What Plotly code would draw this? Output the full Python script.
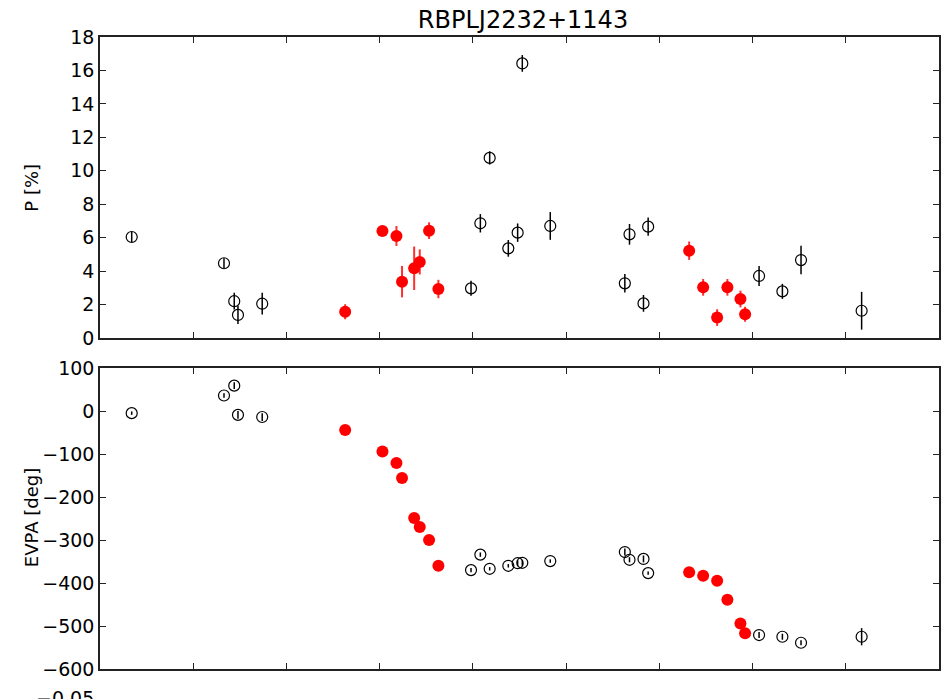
import plotly.graph_objects as go
from plotly.subplots import make_subplots

# ---- data (x in axis-tick units; ticks hidden in the reference) ----
black_x = [0.34, 1.33, 1.44, 1.48, 1.74, 3.98, 4.08, 4.18, 4.38, 4.48, 4.53, 4.83,
           5.63, 5.68, 5.83, 5.88, 7.07, 7.32, 7.52, 8.17]
black_p = [6.04, 4.47, 2.20, 1.38, 2.05, 2.97, 6.86, 10.77, 5.36, 6.30, 16.42, 6.70,
           3.27, 6.20, 2.07, 6.66, 3.71, 2.79, 4.66, 1.63]
black_p_err = [0.30, 0.30, 0.50, 0.55, 0.65, 0.45, 0.55, 0.40, 0.50, 0.55, 0.50, 0.83,
               0.55, 0.62, 0.50, 0.55, 0.60, 0.45, 0.85, 1.13]
black_evpa = [-5, 36, 59, -9, -14, -370, -334, -367, -360, -354, -353, -349,
              -328, -346, -344, -377, -521, -525, -539, -525]
black_evpa_err = [4, 5, 8, 9, 9, 5, 5, 4, 4, 7, 7, 4, 8, 6, 8, 4, 7, 7, 6, 20]

red_x = [2.63, 3.03, 3.18, 3.24, 3.37, 3.43, 3.53, 3.63,
         6.32, 6.47, 6.62, 6.73, 6.87, 6.92]
red_p = [1.57, 6.40, 6.10, 3.37, 4.17, 4.55, 6.42, 2.93,
         5.22, 3.03, 1.22, 3.03, 2.33, 1.42]
red_p_err = [0.45, 0.30, 0.60, 0.94, 1.30, 0.75, 0.50, 0.55,
             0.55, 0.50, 0.50, 0.50, 0.50, 0.45]
red_evpa = [-44, -94, -121, -156, -249, -270, -300, -360,
            -375, -383, -395, -439, -494, -517]
red_evpa_err = [5, 5, 5, 5, 5, 5, 5, 5, 5, 5, 5, 5, 5, 5]

title_text = "RBPLJ2232+1143"
p_label = "P [%]"
evpa_label = "EVPA [deg]"

FONT = "DejaVu Sans"
W, H = 950, 699
L, R, T, B = 100, 9, 37, 30
plot_h = H - T - B

fig = make_subplots(rows=2, cols=1, shared_xaxes=False, vertical_spacing=30 / plot_h)

black_marker = dict(symbol="circle-open", size=11, color="black", line=dict(width=1.2, color="black"))
red_marker = dict(symbol="circle", size=12, color="#ff0000", line=dict(width=0))

fig.add_trace(go.Scatter(x=black_x, y=black_p, mode="markers", marker=black_marker,
                         error_y=dict(type="data", array=black_p_err, color="black", thickness=1.5, width=0),
                         showlegend=False), row=1, col=1)
fig.add_trace(go.Scatter(x=red_x, y=red_p, mode="markers", marker=red_marker,
                         error_y=dict(type="data", array=red_p_err, color="#ff3030", thickness=2, width=0),
                         showlegend=False), row=1, col=1)
fig.add_trace(go.Scatter(x=black_x, y=black_evpa, mode="markers", marker=black_marker,
                         error_y=dict(type="data", array=black_evpa_err, color="black", thickness=1.5, width=0),
                         showlegend=False), row=2, col=1)
fig.add_trace(go.Scatter(x=red_x, y=red_evpa, mode="markers", marker=red_marker,
                         error_y=dict(type="data", array=red_evpa_err, color="#ff3030", thickness=2, width=0),
                         showlegend=False), row=2, col=1)

axis_common = dict(showgrid=False, zeroline=False, showline=True, linecolor="#222222", linewidth=1.5,
                   mirror="allticks", ticks="inside", ticklen=6, tickwidth=1, tickcolor="#222222")
for r in (1, 2):
    fig.update_xaxes(range=[0, 9], dtick=1, tick0=0, showticklabels=False, row=r, col=1, **axis_common)
fig.update_yaxes(range=[0, 18], dtick=2, tick0=0, row=1, col=1,
                 tickfont=dict(family=FONT, size=19, color="black"), **axis_common)
fig.update_yaxes(range=[-600, 100], dtick=100, tick0=0, row=2, col=1,
                 tickfont=dict(family=FONT, size=19, color="black"), **axis_common)

top_dom = [(H - B - 338) / plot_h, 1.0]
bot_dom = [0.0, (H - B - 368) / plot_h]
fig.update_layout(yaxis=dict(domain=top_dom), yaxis2=dict(domain=bot_dom))

def py_to_paper(py):
    return (H - B - py) / plot_h

def px_to_paper(px):
    return (px - L) / (W - L - R)

ann = [
    dict(text=p_label, x=px_to_paper(31), y=py_to_paper(187.5), textangle=-90),
    dict(text=evpa_label, x=px_to_paper(31), y=py_to_paper(518), textangle=-90),
    dict(text="\u22120.05", x=px_to_paper(96), y=py_to_paper(698), xanchor="right", size=19),
]
annotations = []
for a in ann:
    annotations.append(dict(text=a["text"], x=a["x"], y=a["y"], xref="paper", yref="paper",
                            xanchor=a.get("xanchor", "center"), yanchor="middle",
                            textangle=a.get("textangle", 0), showarrow=False,
                            font=dict(family=FONT, size=a.get("size", 18), color="black")))

fig.update_layout(
    width=W, height=H,
    margin=dict(l=L, r=R, t=T, b=B),
    paper_bgcolor="white", plot_bgcolor="white",
    title=dict(text=title_text, x=523 / W, xanchor="center",
               y=1 - 20 / H, yanchor="middle",
               font=dict(family=FONT, size=24, color="black")),
    annotations=annotations,
    font=dict(family=FONT, color="black"),
)

fig.write_html("out.html")
